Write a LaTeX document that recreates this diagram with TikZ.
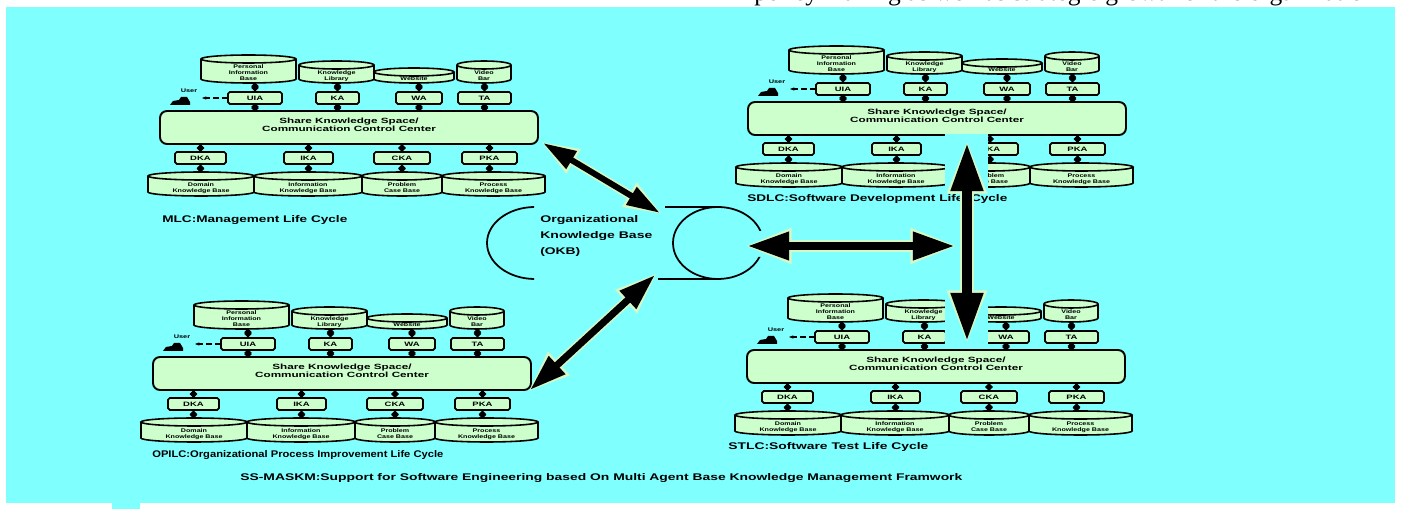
\documentclass[tikz,border=0pt]{standalone}
\usepackage{fontspec}
\usepackage{graphicx}
\setmainfont{Liberation Sans}
\newfontfamily\bodyserif{Liberation Serif}
\usetikzlibrary{arrows.meta}

\newlength\pxl
\setlength\pxl{0.02cm}
\definecolor{bgcyan}{HTML}{80FFFF}
\definecolor{boxgreen}{HTML}{CCFFCC}
\definecolor{halogreen}{HTML}{D6F7C6}

\tikzset{
  cylbody/.style={fill=boxgreen, draw=black, line width=0.9pt},
  cylside/.style={draw=black, line width=0.9pt},
  cyltext/.style={inner sep=0pt, font=\fontsize{3}{3.5}\selectfont\bfseries},
  agentst/.style={draw=black, fill=boxgreen, line width=1pt, rounded corners=1pt, inner sep=0pt, font=\fontsize{3.6}{4}\selectfont\bfseries},
  bigst/.style={draw=black, fill=boxgreen, line width=1.1pt, rounded corners=0.14cm, inner sep=0pt},
  bigtext/.style={inner sep=0pt, font=\fontsize{4.3}{4.3}\selectfont\bfseries},
  conn/.style={line width=1.7pt, {Circle[length=3.6pt]}-{Circle[length=3.6pt]}},
  userlink/.style={line width=0.8pt, densely dashed, {Stealth[length=2.5pt]}-},
  usertext/.style={inner sep=0pt, font=\fontsize{3}{3}\selectfont\bfseries},
  lbl/.style={anchor=west, inner sep=0pt},
  okbline/.style={draw=black, line width=1pt},
  halo/.style={draw=halogreen},
}

% horizontally stretched stack of centred lines
\newcommand\stk[2]{\scalebox{#1}[1]{\begin{tabular}{@{}c@{}}#2\end{tabular}}}
% bold text forced to a given width and height (in pixel units)
\newcommand\fitbox[3]{\resizebox{#1\pxl}{#2\pxl}{\bfseries #3}}

% database cylinder: name, left, right, top, bottom, text
\newcommand\dbcyl[6]{%
  \path[cylbody] ({((#2)+(#3))/2},{(#5)-4}) ellipse [x radius={((#3)-(#2))/2}, y radius=4];
  \fill[boxgreen] (#2,{(#4)+4}) rectangle (#3,{(#5)-4});
  \draw[cylside] (#2,{(#4)+4}) -- (#2,{(#5)-4}) (#3,{(#4)+4}) -- (#3,{(#5)-4});
  \path[cylbody] ({((#2)+(#3))/2},{(#4)+4}) ellipse [x radius={((#3)-(#2))/2}, y radius=4];
  \coordinate (#1-top) at ({((#2)+(#3))/2},#4);
  \coordinate (#1-bot) at ({((#2)+(#3))/2},#5);
  \node[cyltext] (#1) at ({((#2)+(#3))/2},{((#4)+(#5))/2+4}) {#6};
}

% agent box: name, left, right, top, bottom, text
\newcommand\agentbox[6]{%
  \node[agentst, minimum width={((#3)-(#2))*\pxl}, minimum height={((#5)-(#4))*\pxl}]
    (#1) at ({((#2)+(#3))/2},{((#4)+(#5))/2}) {\scalebox{1.5}[1]{#6}};
}

% one life-cycle block, placed relative to the top-left corner of its shared space
\newcommand\lifecycle[1]{%
  \dbcyl{#1-pib}{41}{136}{-56}{-28}{\stk{1.35}{Personal\\Information\\Base}}
  \dbcyl{#1-kl}{139}{214}{-50}{-28}{\stk{1.35}{Knowledge\\Library}}
  \dbcyl{#1-ws}{214}{294}{-43}{-28}{\stk{1.35}{Website}}
  \dbcyl{#1-vb}{297}{351}{-50}{-28}{\stk{1.35}{Video\\Bar}}
  \agentbox{#1-uia}{68}{122}{-19}{-7}{UIA}
  \agentbox{#1-ka}{156}{199}{-19}{-7}{KA}
  \agentbox{#1-wa}{236}{282}{-19}{-7}{WA}
  \agentbox{#1-ta}{298}{351}{-19}{-7}{TA}
  \node[bigst, minimum width=378\pxl, minimum height=33\pxl] (#1-ks) at (189,16.5) {};
  \node[bigtext] (#1-kst) at (189,15) {\stk{1.55}{Share Knowledge Space/\\Communication Control Center}};
  \agentbox{#1-dka}{15}{66}{41}{53}{DKA}
  \agentbox{#1-ika}{124}{173}{41}{53}{IKA}
  \agentbox{#1-cka}{214}{270}{41}{53}{CKA}
  \agentbox{#1-pka}{302}{357}{41}{53}{PKA}
  \dbcyl{#1-dkb}{-12}{94}{61}{85}{\stk{1.35}{Domain\\Knowledge Base}}
  \dbcyl{#1-ikb}{94}{202}{61}{85}{\stk{1.35}{Information\\Knowledge Base}}
  \dbcyl{#1-pcb}{202}{282}{61}{85}{\stk{1.35}{Problem\\Case Base}}
  \dbcyl{#1-pkb}{282}{385}{61}{85}{\stk{1.35}{Process\\Knowledge Base}}
  \foreach \a/\c in {uia/pib,ka/kl,wa/ws,ta/vb}{
    \draw[conn] (#1-\c-bot -| #1-\a.north) -- (#1-\a.north);
    \draw[conn] (#1-\a.south) -- (#1-\a.south |- #1-ks.north);
  }
  \foreach \a/\c in {dka/dkb,ika/ikb,cka/pcb,pka/pkb}{
    \draw[conn] (#1-ks.south -| #1-\a.north) -- (#1-\a.north);
    \draw[conn] (#1-\a.south) -- (#1-\a.south |- #1-\c-top);
  }
  % user at the interface agent
  \fill (10,-6) -- (13,-10) -- (19,-11) -- (21,-14) -- (27,-14) -- (30,-9) -- (30,-6) -- cycle;
  \coordinate (#1-usr) at (42,-13);
  \node[usertext] (#1-ulab) at (29,-20) {\scalebox{1.4}[1]{User}};
  \draw[userlink] (#1-usr) -- (#1-uia.west);
}

% thick double arrow with a pale rim: from, to, shaft, head length, head width
\newcommand\fatarrow[5]{%
  \draw[halo, line width=\the\dimexpr#3+1.8pt\relax, shorten <=-1.6pt, shorten >=-1.6pt,
    {Triangle[length=\the\dimexpr#4+3pt\relax, width=\the\dimexpr#5+3.6pt\relax]}-{Triangle[length=\the\dimexpr#4+3pt\relax, width=\the\dimexpr#5+3.6pt\relax]}] (#1) -- (#2);
  \draw[line width=#3, {Triangle[length=#4, width=#5]}-{Triangle[length=#4, width=#5]}] (#1) -- (#2);
}

\begin{document}
\begin{tikzpicture}[x=0.02cm, y=-0.02cm, line join=miter]
\useasboundingbox (0,0) rectangle (1401,509);
% page and panel
\fill[white] (0,0) rectangle (1401,509);
\node[anchor=base west, inner sep=0pt, font=\bodyserif\fontsize{14.5}{16}\selectfont] (toptext) at (754,0.3) {policy making as well as strategic growth of the organization};
\fill[bgcyan] (6,7) rectangle (1395,503);
\fill[bgcyan] (112,503) rectangle (140,509);

% the four life-cycle blocks
\begin{scope}[shift={(160,111)}]\lifecycle{mlc}\end{scope}
\begin{scope}[shift={(748,102)}]\lifecycle{sdlc}\end{scope}
\begin{scope}[shift={(153,357)}]\lifecycle{opi}\end{scope}
\begin{scope}[shift={(747,350)}]\lifecycle{stlc}\end{scope}

% organizational knowledge base
\begin{scope}
  \clip (478,195) rectangle (534,292);
  \draw[okbline] (535,243) ellipse [x radius=48, y radius=36];
\end{scope}
\begin{scope}
  \clip (660,195) rectangle (775,231) (660,231) rectangle (752,257) (660,257) rectangle (775,292);
  \draw[okbline] (718,243) ellipse [x radius=45, y radius=36];
\end{scope}
\draw[okbline] (665,207) -- (718,207) (658,279) -- (718,279);
\node[lbl] (okb1) at (540,220) {\fitbox{98}{7}{Organizational}};
\node[lbl] (okb2) at (540,236) {\fitbox{112}{7}{Knowledge Base}};
\node[lbl] (okb3) at (540,252) {\fitbox{40}{7}{(OKB)}};

% clear lane for the vertical link
\fill[bgcyan] (945,134) rectangle (988,346);

% captions
\node[lbl] (mlc-lbl) at (162,220) {\fitbox{185}{7}{MLC:Management Life Cycle}};
\node[lbl] (sdlc-lbl) at (747,199) {\fitbox{260}{7}{SDLC:Software Development Life\_Cycle}};
\node[lbl] (opi-lbl) at (152,455) {\fitbox{291}{7}{OPILC:Organizational Process Improvement Life Cycle}};
\node[lbl] (stlc-lbl) at (728,447) {\fitbox{200}{7}{STLC:Software Test Life Cycle}};
\node[lbl] (title) at (240,478) {\fitbox{722}{7}{SS-MASKM:Support for Software Engineering based On Multi Agent Base Knowledge Management Framwork}};

% links between the blocks and the knowledge base
\coordinate (mlc-a) at (543,143);
\coordinate (okb-a) at (660,213);
\coordinate (opi-a) at (530,390);
\coordinate (okb-b) at (655,275);
\coordinate (okb-c) at (747,246);
\coordinate (sdlc-h) at (955,246);
\coordinate (sdlc-v) at (967,142);
\coordinate (stlc-v) at (967,342);
\fatarrow{mlc-a}{okb-a}{3.4pt}{19pt}{11pt}
\fatarrow{opi-a}{okb-b}{4pt}{21pt}{13pt}
\fatarrow{okb-c}{sdlc-h}{5pt}{24pt}{15pt}
\fatarrow{sdlc-v}{stlc-v}{6.2pt}{28pt}{17pt}
\end{tikzpicture}
\end{document}
